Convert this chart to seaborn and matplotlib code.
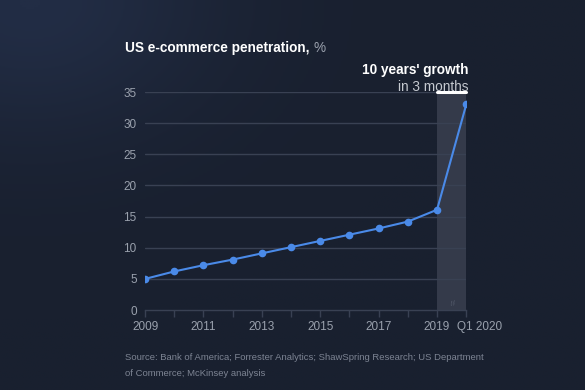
import numpy as np
import pandas as pd
import matplotlib.pyplot as plt
import matplotlib.transforms as mtransforms
import seaborn as sns

# data
periods = ['2009', '2010', '2011', '2012', '2013', '2014', '2015', '2016',
           '2017', '2018', '2019', 'Q1 2020']
penetration = [5.0, 6.2, 7.2, 8.1, 9.1, 10.1, 11.1, 12.1, 13.1, 14.2, 16.1, 33.0]
tick_labels = ['2009', '', '2011', '', '2013', '', '2015', '', '2017', '', '2019', 'Q1 2020']

bg = '#19202f'
grid_col = '#394153'
label_col = '#9aa1ad'
line_col = '#4a8ae8'

sns.set_style('dark', {'axes.facecolor': bg, 'figure.facecolor': bg})
plt.rcParams['font.family'] = ['Liberation Sans', 'DejaVu Sans']

df = pd.DataFrame({'pos': np.arange(len(periods)), 'value': penetration})

fig = plt.figure(figsize=(5.85, 3.9), dpi=100)

# faint glow in the upper-left corner of the background
bg_ax = fig.add_axes([0, 0, 1, 1], zorder=-10)
yy, xx = np.mgrid[0:1:200j, 0:1:300j]
glow = np.exp(-((xx - 0.05) ** 2 / 0.1 + yy ** 2 / 0.12))
bg_ax.imshow(glow, cmap=sns.blend_palette([bg, '#222d45'], as_cmap=True),
             extent=[0, 1, 0, 1], aspect='auto', origin='upper')
bg_ax.axis('off')

ax = fig.add_axes([0.248, 0.205, 0.549, 0.559])
ax.set_facecolor('none')

# highlighted last-quarter band
ax.axvspan(10, 11, ymin=0, ymax=1, color='#343a4a', zorder=0, lw=0)
ax.plot([10, 11], [35, 35], color='white', lw=2.2, zorder=4, clip_on=False)

for y in range(5, 36, 5):
    ax.axhline(y, color=grid_col, lw=1, zorder=1)

sns.lineplot(data=df, x='pos', y='value', ax=ax, color=line_col, lw=1.5,
             marker='o', markersize=5.5, markeredgewidth=0, zorder=5)

ax.set_xlim(0, 11)
ax.set_ylim(0, 35)
ax.set_xticks(df['pos'])
ax.set_xticklabels(tick_labels)
ax.set_yticks(range(0, 36, 5))
ax.tick_params(axis='x', colors=grid_col, labelcolor=label_col, length=5,
               width=1, labelsize=8.5, pad=3, direction='out', bottom=True)
ax.tick_params(axis='y', colors=label_col, length=0, labelsize=8.5, pad=6)
ax.set_xlabel('')
ax.set_ylabel('')
for side in ['top', 'right', 'left']:
    ax.spines[side].set_visible(False)
ax.spines['bottom'].set_color(grid_col)
ax.spines['bottom'].set_linewidth(1)
ax.grid(False)

# push the "Q1 2020" label to the right of its tick
last = ax.get_xticklabels()[-1]
last.set_transform(last.get_transform() +
                   mtransforms.ScaledTranslation(13 / 100, 0, fig.dpi_scale_trans))

# axis break mark between 2019 and Q1 2020
ax.text(10.55, 0.3, '//', color='#5a6172', fontsize=6, ha='center', va='bottom',
        rotation=10)

title = fig.text(125 / 585, 1 - 48 / 390, 'US e-commerce penetration,', color='white',
                 fontsize=9.8, fontweight='bold', va='center', ha='left')
fig.canvas.draw()
bb = title.get_window_extent()
fig.text((bb.x1 + 4) / 585, 1 - 48 / 390, '%', color=label_col, fontsize=9.8,
         va='center', ha='left')
fig.text(469 / 585, 1 - 70 / 390, "10 years' growth", color='white',
         fontsize=9.8, fontweight='bold', va='center', ha='right')
fig.text(469 / 585, 1 - 87 / 390, 'in 3 months', color='#c5c9d0',
         fontsize=9.8, va='center', ha='right')
fig.text(125 / 585, 1 - 357 / 390,
         'Source: Bank of America; Forrester Analytics; ShawSpring Research; US Department',
         color='#7d8493', fontsize=6.8, va='center', ha='left')
fig.text(125 / 585, 1 - 373 / 390, 'of Commerce; McKinsey analysis',
         color='#7d8493', fontsize=6.8, va='center', ha='left')

fig.savefig('out.png', dpi=100, facecolor=bg)
